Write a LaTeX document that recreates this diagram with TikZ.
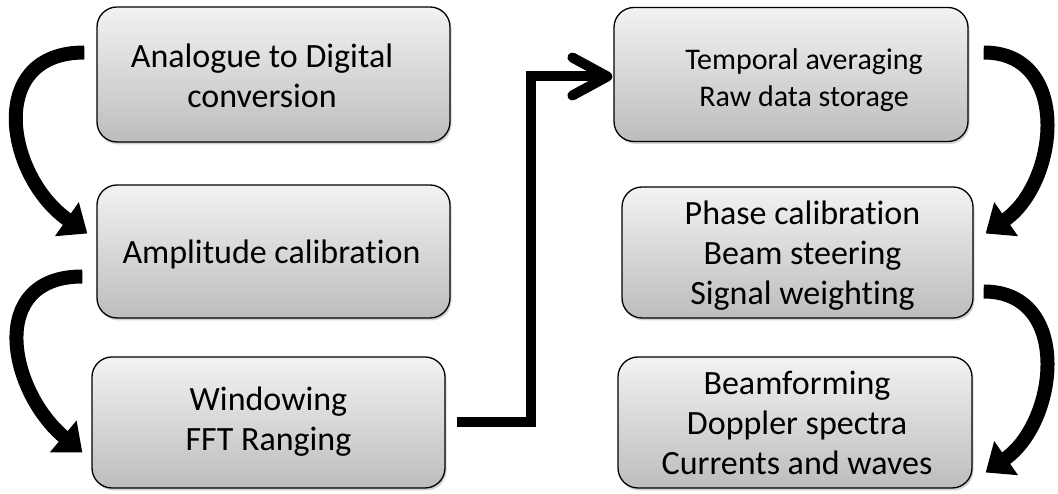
\documentclass[tikz,border=0pt]{standalone}
\usepackage{fontspec}
\setmainfont{Carlito}[Ligatures=NoCommon]
\usetikzlibrary{arrows.meta,shadows,calc}
\newcommand\boxtext[3]{\hspace*{#1}\begin{tabular}{@{}c@{}}\rule{0pt}{#2}#3\end{tabular}}
\begin{document}
\begin{tikzpicture}[x=1pt,y=1pt,
  procbox/.style={draw=black, line width=1.3pt, rounded corners=20pt,
    top color=black!5, bottom color=black!26, inner sep=0pt,
    drop shadow={shadow xshift=1.5pt, shadow yshift=-2.5pt, opacity=0.35},
    font=\fontsize{34}{40}\selectfont},
  curvearrow/.style={line width=14pt, -{Triangle[length=25pt,width=40pt]}},
  elbowarrow/.style={line width=10pt, -{Straight Barb[length=35pt,width=38pt,round]}}]
\useasboundingbox (0,0) rectangle (1058,494);

\node[procbox, minimum width=353pt, minimum height=135pt] (b1) at (273.5,419.5)
  {\boxtext{-23pt}{38pt}{Analogue to Digital\\conversion}};
\node[procbox, minimum width=353pt, minimum height=133pt] (b2) at (273.5,242.5)
  {\boxtext{-4pt}{36pt}{Amplitude calibration}};
\node[procbox, minimum width=353pt, minimum height=131pt] (b3) at (268.5,71.5)
  {\boxtext{0pt}{28pt}{Windowing\\FFT Ranging}};
\node[procbox, minimum width=354pt, minimum height=134pt, font=\fontsize{30}{37}\selectfont] (b4) at (791,419.5)
  {\boxtext{26pt}{38pt}{Temporal averaging\\Raw data storage}};
\node[procbox, minimum width=351pt, minimum height=131pt] (b5) at (797.5,241.5)
  {\boxtext{10pt}{37pt}{Phase calibration\\Beam steering\\Signal weighting}};
\node[procbox, minimum width=354pt, minimum height=131pt] (b6) at (795,71.5)
  {\boxtext{4pt}{36pt}{Beamforming\\Doppler spectra\\Currents and waves}};

\draw[curvearrow] ([shift={(-12pt,22pt)}]b1.west) to[out=180,in=145,looseness=1.4] ([shift={(-9pt,18pt)}]b2.west);
\draw[curvearrow] ([shift={(-14pt,-25pt)}]b2.west) to[out=180,in=140,looseness=1.4] ([shift={(-9pt,-30pt)}]b3.west);
\draw[curvearrow] ([shift={(15pt,22pt)}]b4.east) to[out=0,in=35,looseness=1.25] ([shift={(12pt,19pt)}]b5.east);
\draw[curvearrow] ([shift={(10pt,-39pt)}]b5.east) to[out=0,in=35,looseness=1.25] ([shift={(13pt,-50pt)}]b6.east);

\coordinate (bend) at (531,0);
\coordinate (in4) at ([shift={(-1pt,-2pt)}]b4.west);
\draw[elbowarrow] ([xshift=11pt]b3.east) -| (bend |- in4) -- (in4);
\end{tikzpicture}
\end{document}
